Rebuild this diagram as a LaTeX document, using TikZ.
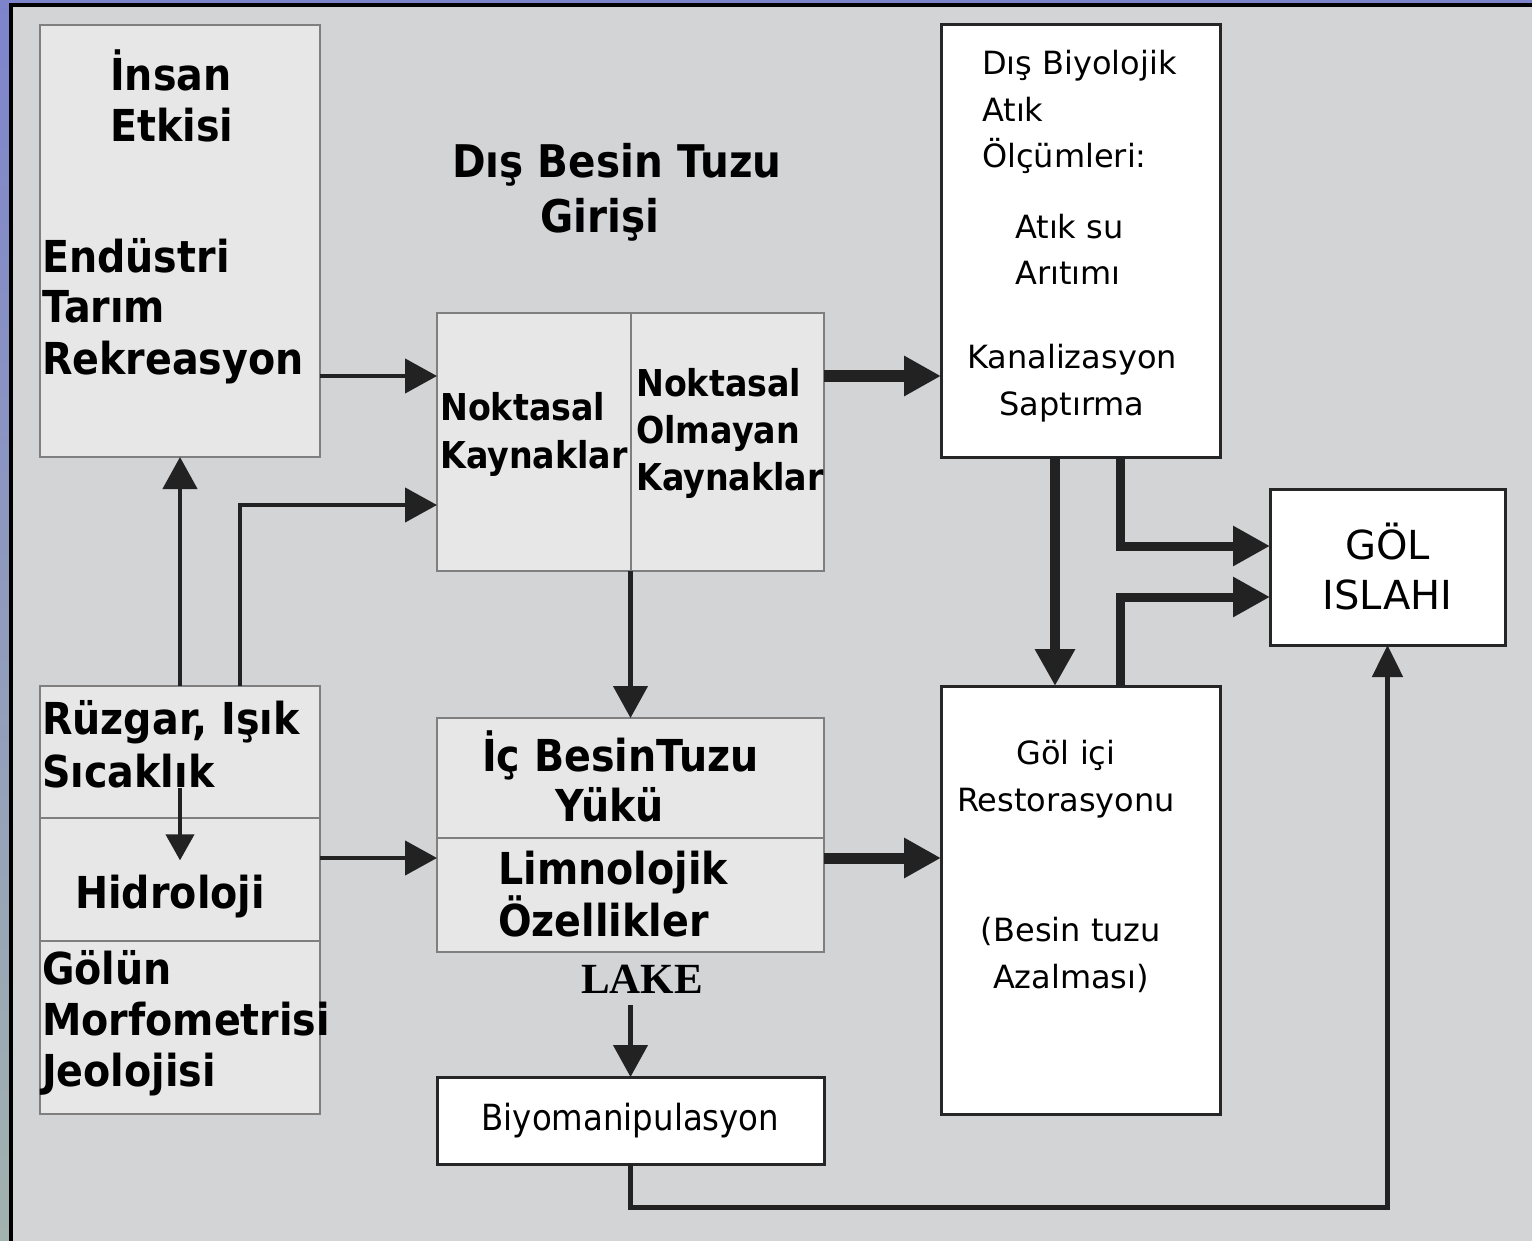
\documentclass[tikz,border=0pt]{standalone}
\usepackage{fontspec}
\setmainfont{DejaVu Sans}
\newfontfamily\condfont{DejaVu Sans}[FakeStretch=0.9]
\newfontfamily\lakefont{Liberation Serif}
\usetikzlibrary{arrows.meta}

\definecolor{bggray}{HTML}{D3D4D6}
\definecolor{boxfill}{HTML}{E7E7E7}
\definecolor{boxline}{HTML}{7F7F7F}
\definecolor{darkline}{HTML}{262626}
\definecolor{arrowcol}{HTML}{222222}
\definecolor{frametop}{HTML}{7E84CC}
\definecolor{framemid}{HTML}{B2BCEC}
\definecolor{framebot}{HTML}{A2B2AE}

\tikzset{
  graybox/.style={draw=boxline, fill=boxfill, line width=2pt, inner sep=0pt, outer sep=0pt, anchor=north west},
  whitebox/.style={draw=darkline, fill=white, line width=3pt, inner sep=0pt, outer sep=0pt, anchor=north west},
  boldtxt/.style={font=\condfont\bfseries\fontsize{44}{51}\selectfont, inner sep=0pt, align=left, anchor=base west},
  midtxt/.style={font=\condfont\bfseries\fontsize{37}{48}\selectfont, inner sep=0pt, align=left, anchor=base west},
  thintxt/.style={font=\fontsize{32}{46.5}\selectfont, inner sep=0pt, align=left, anchor=base west},
  thinarr/.style={draw=arrowcol, line width=4.5pt, -{Triangle[length=32pt,width=34pt]}},
  thickarr/.style={draw=arrowcol, line width=11pt, -{Triangle[length=37pt,width=38pt]}},
}

\begin{document}
\begin{tikzpicture}[x=1pt, y=-1pt]
		\useasboundingbox (0,0) rectangle (1532,1241);
		
		% Background and frame
		\fill[bggray] (0,0) rectangle (1532,1241);
		\shade[top color=frametop, middle color=framemid, bottom color=framebot] (0,0) rectangle (9,1241);
		\fill[frametop] (0,0) rectangle (1532,3);
		\fill[black] (9,3) rectangle (1532,7);
		\fill[black] (9,3) rectangle (13,1241);
		
		% Boxes
		\node[graybox, minimum width=280pt, minimum height=432pt] (insan) at (40,25) {};
		\node[graybox, minimum width=387pt, minimum height=258pt] (noktasal) at (437,313) {};
		\node[whitebox, minimum width=279pt, minimum height=432pt] (disbio) at (941,25) {};
		\node[whitebox, minimum width=235pt, minimum height=156pt, align=center,
		      font=\fontsize{40}{50}\selectfont] (gol) at (1270,489) {GÖL\\ISLAHI};
		\node[graybox, minimum width=280pt, minimum height=428pt] (etken) at (40,686) {};
		\node[graybox, minimum width=387pt, minimum height=234pt] (ic) at (437,718) {};
		\node[whitebox, minimum width=387pt, minimum height=87pt,
		      font=\condfont\fontsize{36}{40}\selectfont] (biyo) at (437,1077) {Biyomanipulasyon};
		\node[whitebox, minimum width=279pt, minimum height=428pt] (golici) at (941,686) {};
		
		% Dividers
		\draw[boxline, line width=2pt] (noktasal.north) -- (noktasal.south);
		\draw[boxline, line width=2pt] (etken.west |- 0,818) -- (etken.east |- 0,818);
		\draw[boxline, line width=2pt] (etken.west |- 0,941) -- (etken.east |- 0,941);
		\draw[boxline, line width=2pt] (ic.west |- 0,838) -- (ic.east |- 0,838);
		
		% Labels
		\node[boldtxt] (insanlbl) at (110,142) {İnsan\\Etkisi};
		\node[boldtxt] (endlbl) at (42,374) {Endüstri\\Tarım\\Rekreasyon};
		\node[boldtxt, font=\condfont\bfseries\fontsize{45}{55}\selectfont] (baslik) at (452,233) {Dış Besin Tuzu\\\hspace*{88pt}Girişi};
		\node[midtxt] (nokta) at (440,468) {Noktasal\\Kaynaklar};
		\node[midtxt, font=\condfont\bfseries\fontsize{37}{47}\selectfont] (noktaol) at (636,490) {Noktasal\\Olmayan\\Kaynaklar};
		\node[thintxt] (atiklbl) at (982,168) {Dış Biyolojik\\Atık\\Ölçümleri:};
		\node[thintxt] (aritim) at (1015,285) {Atık su\\Arıtımı};
		\node[thintxt, align=center, anchor=base] (kanal) at (1072,415) {Kanalizasyon\\Saptırma};
		\node[boldtxt, font=\condfont\bfseries\fontsize{44}{53}\selectfont] (ruzgar) at (42,787) {Rüzgar, Işık\\Sıcaklık};
		\node[boldtxt] (hidro) at (75,908) {Hidroloji};
		\node[boldtxt] (morfo) at (42,1086) {Gölün\\Morfometrisi\\Jeolojisi};
		\node[boldtxt, font=\condfont\bfseries\fontsize{44}{50}\selectfont] (icyuk) at (482,821) {İç BesinTuzu\\\hspace*{73pt}Yükü};
		\node[boldtxt, font=\condfont\bfseries\fontsize{44}{52}\selectfont] (limno) at (498,936) {Limnolojik\\Özellikler};
		\node[inner sep=0pt, anchor=base, font=\lakefont\bfseries\fontsize{43}{50}\selectfont] (lake) at (642,993) {LAKE};
		\node[thintxt, align=center, anchor=base] (golicilbl) at (1066,811) {Göl içi\\Restorasyonu};
		\node[thintxt, align=center, anchor=base, font=\fontsize{32}{47}\selectfont] (azal) at (1071,988) {(Besin tuzu\\Azalması)};
		
		% Arrows
		\draw[thinarr] (insan.east |- 0,376) -- (noktasal.west |- 0,376);
		\draw[thinarr] (etken.north -| 180,0) -- (insan.south -| 180,0);
		\draw[thinarr] (etken.north -| 240,0) |- (noktasal.west |- 0,505);
		\draw[thickarr] (noktasal.east |- 0,376) -- (disbio.west |- 0,376);
		\draw[thinarr] (noktasal.south) -- (ic.north);
		\draw[thinarr, line width=4pt, -{Triangle[length=26pt,width=28pt]}, shorten >=14pt] (ruzgar.south -| 180,0) -- (hidro.north -| 180,0);
		\draw[thinarr] (etken.east |- 0,858) -- (ic.west |- 0,858);
		\draw[thickarr] (ic.east |- 0,858) -- (golici.west |- 0,858);
		\draw[thinarr, shorten <=12pt] (lake.south -| biyo.north) -- (biyo.north);
		\draw[thickarr, line width=10pt] (disbio.south -| 1055,0) -- (golici.north -| 1055,0);
		\draw[thickarr, line width=9pt] (disbio.south -| 1120,0) |- (gol.west |- 0,546);
		\draw[thickarr, line width=9pt] (golici.north -| 1120,0) |- (gol.west |- 0,597);
		\draw[thinarr, line width=5pt, -{Triangle[length=32pt,width=30pt]}] (biyo.south) -- ++(0,43) -| (gol.south);
	\end{tikzpicture}
\end{document}
